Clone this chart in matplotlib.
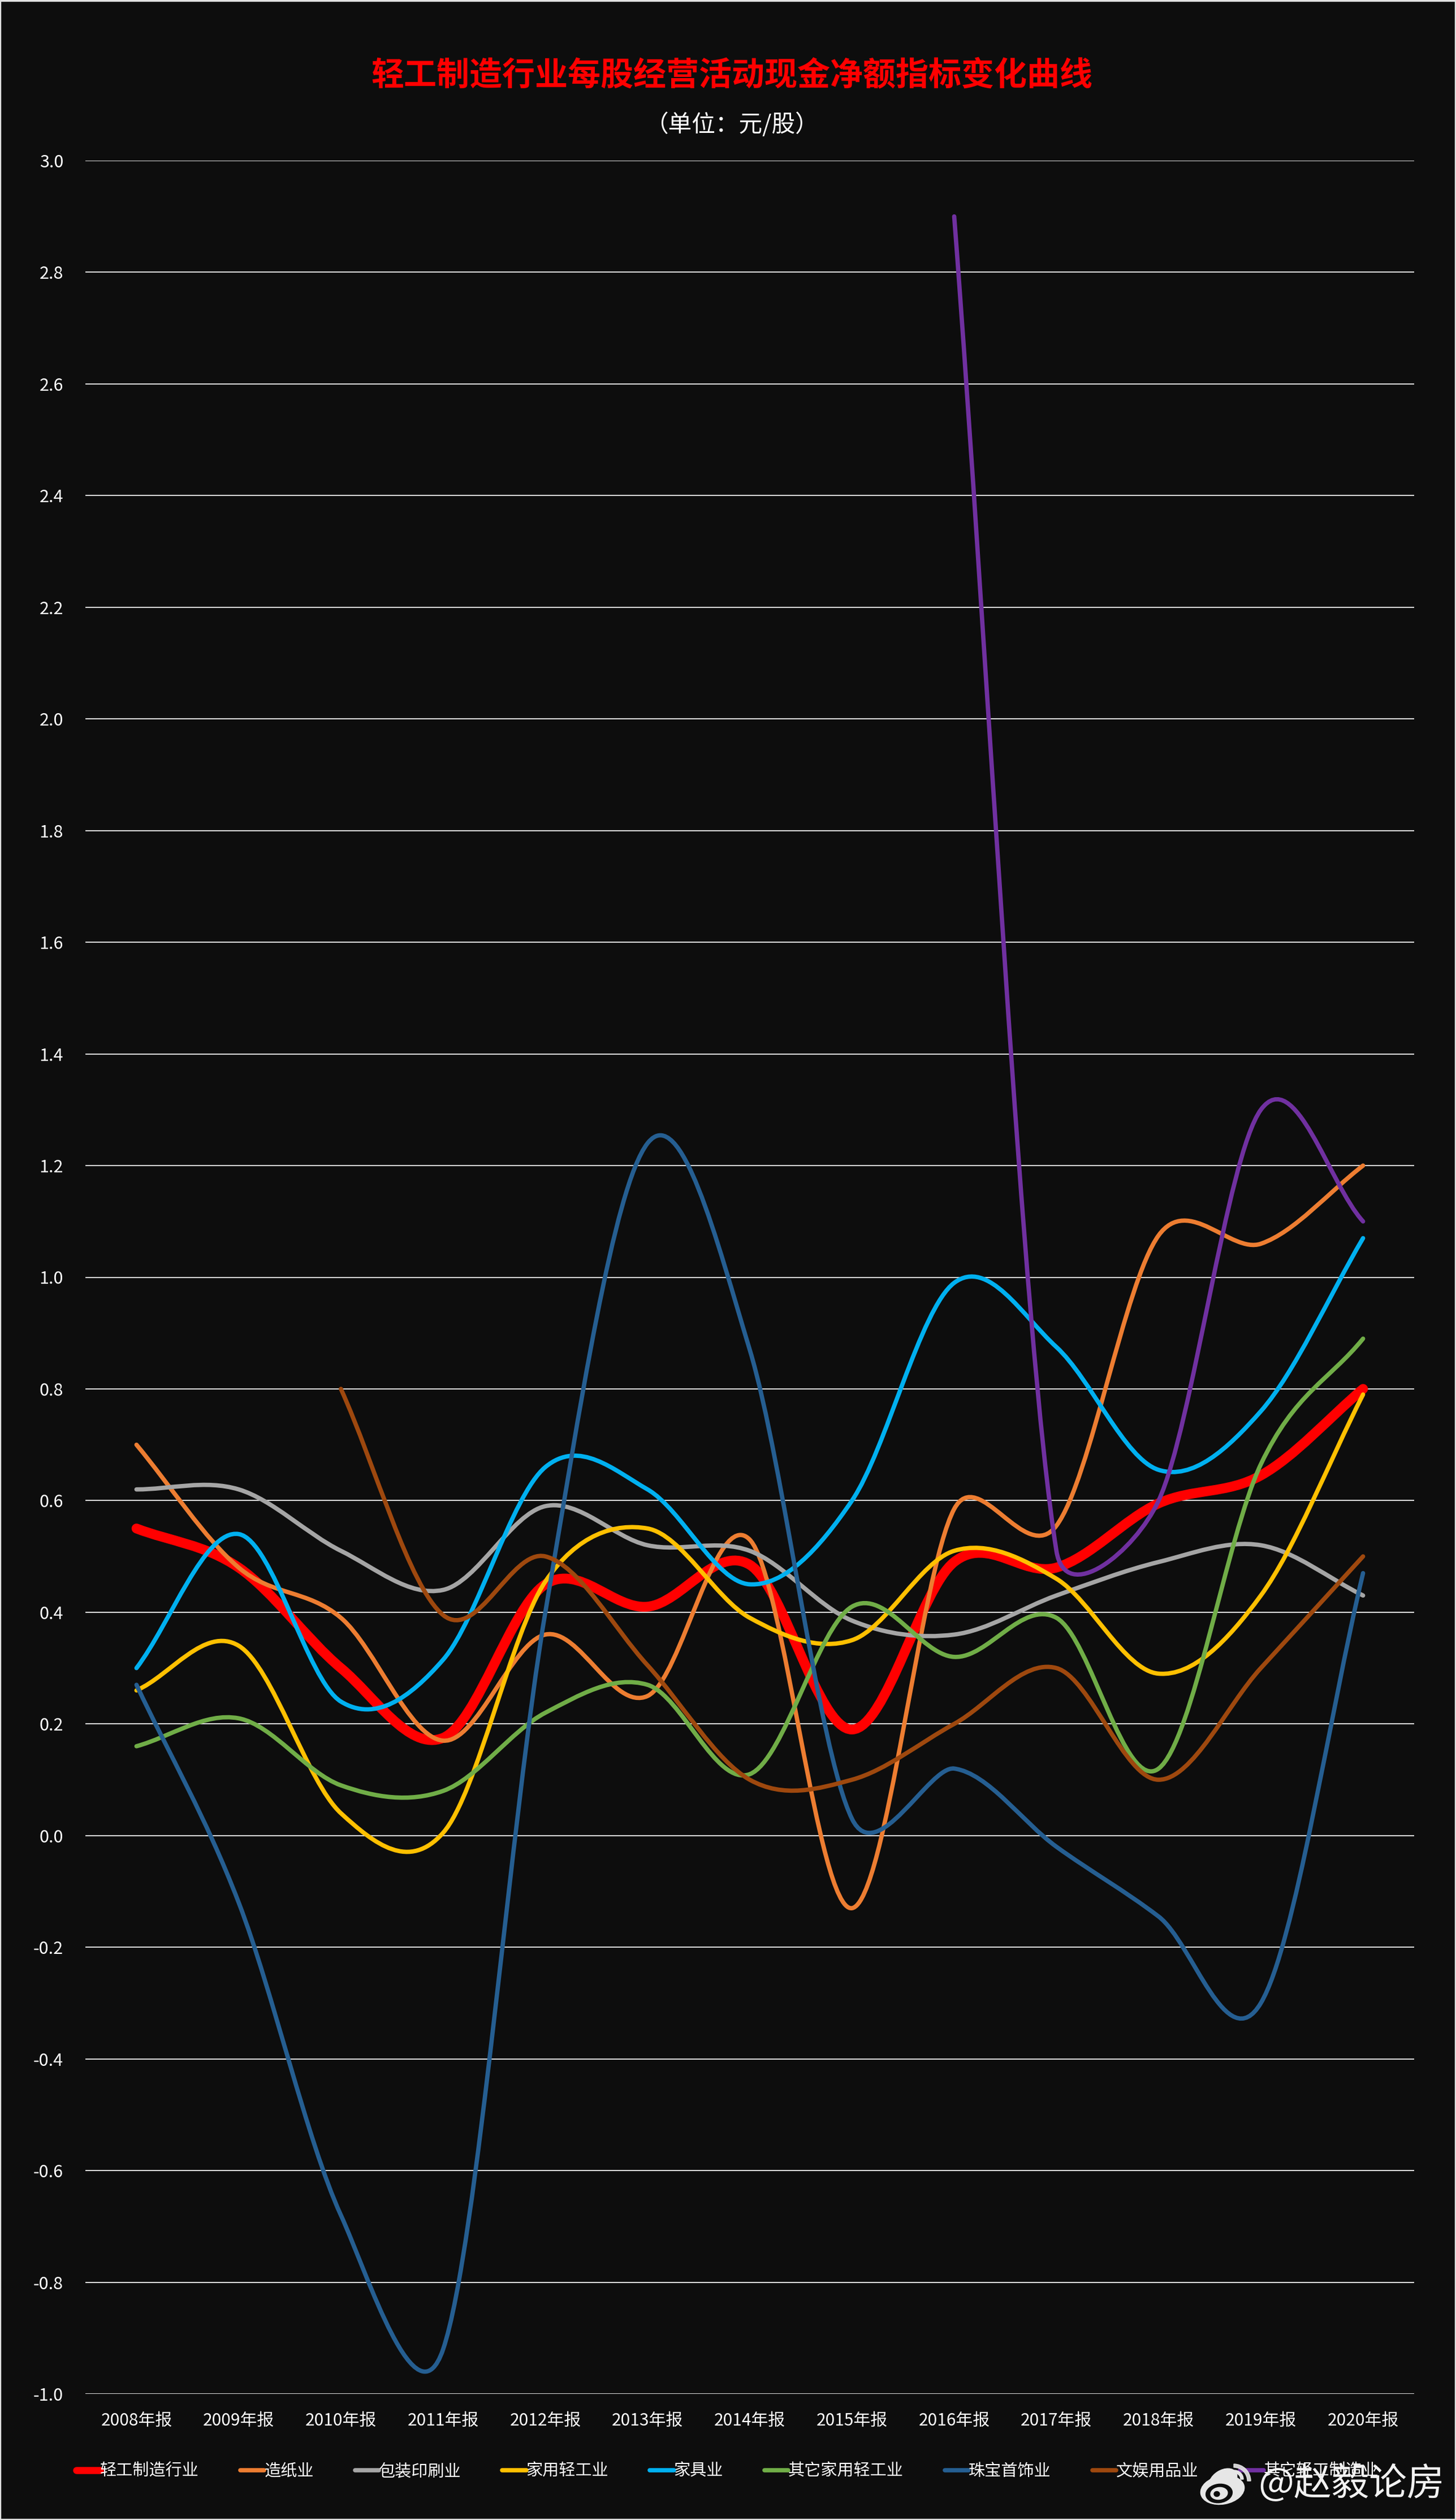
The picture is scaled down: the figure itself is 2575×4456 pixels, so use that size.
import numpy as np
import matplotlib
matplotlib.use("Agg")
import matplotlib.pyplot as plt
from matplotlib.lines import Line2D
from matplotlib.patches import Ellipse, PathPatch, Rectangle, Wedge
from matplotlib.path import Path

plt.rcParams["font.family"] = ["Noto Sans CJK SC", "DejaVu Sans"]
plt.rcParams["axes.unicode_minus"] = False

TITLE = "轻工制造行业每股经营活动现金净额指标变化曲线"
SUBTITLE = "（单位：元/股）"
WATERMARK = "@赵毅论房"

years = [f"{y}年报" for y in range(2008, 2021)]
yticks = [round(-1.0 + 0.2 * i, 1) for i in range(21)]

light_mfg = [0.55, 0.48, 0.30, 0.175, 0.45, 0.41, 0.485, 0.19, 0.49, 0.48, 0.595, 0.645, 0.80]
paper = [0.70, 0.48, 0.39, 0.17, 0.36, 0.25, 0.53, -0.13, 0.585, 0.555, 1.075, 1.06, 1.20]
packaging = [0.62, 0.62, 0.51, 0.44, 0.59, 0.52, 0.51, 0.385, 0.36, 0.43, 0.49, 0.52, 0.43]
home_light = [0.26, 0.34, 0.04, 0.005, 0.455, 0.55, 0.39, 0.35, 0.51, 0.46, 0.29, 0.43, 0.79]
furniture = [0.30, 0.54, 0.24, 0.315, 0.66, 0.62, 0.45, 0.60, 0.99, 0.875, 0.655, 0.76, 1.07]
other_home = [0.16, 0.21, 0.09, 0.08, 0.22, 0.27, 0.11, 0.41, 0.32, 0.39, 0.12, 0.665, 0.89]
jewelry = [0.27, -0.12, -0.68, -0.92, 0.40, 1.24, 0.87, 0.03, 0.12, -0.02, -0.145, -0.30, 0.47]
leisure = [None, None, 0.80, 0.395, 0.50, 0.305, 0.10, 0.10, 0.20, 0.30, 0.10, 0.30, 0.50]
other_mfg = [None, None, None, None, None, None, None, None, 2.90, 0.51, 0.60, 1.30, 1.10]

series_names = ["轻工制造行业", "造纸业", "包装印刷业", "家用轻工业", "家具业",
                "其它家用轻工业", "珠宝首饰业", "文娱用品业", "其它轻工制造业"]
series_values = [light_mfg, paper, packaging, home_light, furniture,
                 other_home, jewelry, leisure, other_mfg]
series_colors = ["#FF0000", "#ED7D31", "#A5A5A5", "#FFC000", "#00B0F0",
                 "#70AD47", "#255E91", "#9E480E", "#7030A0"]

BG = "#0D0D0D"
W, H = 2575, 4456


def smooth_path(ax, x, y):
    """Bezier path through the points, same control point rules as Excel smoothed lines"""
    pts = ax.transData.transform(np.column_stack([x, y]))
    verts = [pts[0]]
    codes = [Path.MOVETO]
    n = len(pts)
    for i in range(n - 1):
        p0 = pts[max(i - 1, 0)]
        p1 = pts[i]
        p2 = pts[i + 1]
        p3 = pts[min(i + 2, n - 1)]
        d02 = np.hypot(*(p2 - p0))
        d12 = np.hypot(*(p2 - p1))
        d13 = np.hypot(*(p3 - p1))
        if d02 / 6 < d12 / 2 and d13 / 6 < d12 / 2:
            f1 = 1 / 3 if i == 0 else 1 / 6
            f2 = 1 / 3 if i == n - 2 else 1 / 6
            b1 = p1 + (p2 - p0) * f1
            b2 = p2 + (p1 - p3) * f2
        elif d02 / 6 >= d12 / 2 and d13 / 6 >= d12 / 2:
            b1 = p1 + (p2 - p0) * d12 / 2 / d02
            b2 = p2 + (p1 - p3) * d12 / 2 / d13
        elif d02 / 6 >= d12 / 2:
            b1 = p1 + (p2 - p0) * d12 / 2 / d02
            b2 = p2 + (p1 - p3) * d12 / 2 / d13 * (d13 / d02)
        else:
            b1 = p1 + (p2 - p0) * d12 / 2 / d02 * (d02 / d13)
            b2 = p2 + (p1 - p3) * d12 / 2 / d13
        verts += [b1, b2, p2]
        codes += [Path.CURVE4] * 3
    return Path(ax.transData.inverted().transform(np.array(verts)), codes)


def main():
    fig = plt.figure(figsize=(W / 100, H / 100), dpi=100, facecolor=BG)
    ax = fig.add_axes([151 / W, 1 - 4233 / H, 2350 / W, (4233 - 284) / H], facecolor=BG)
    ax.set_xlim(-0.5, 12.5)
    ax.set_ylim(-1.0, 3.0)

    ax.set_yticks(yticks)
    ax.set_yticklabels([f"{v:.1f}" for v in yticks], color="white", fontsize=22)
    ax.set_xticks(range(len(years)))
    ax.set_xticklabels(years, color="white", fontsize=21.5)
    ax.tick_params(axis="both", length=0)
    ax.tick_params(axis="y", pad=28)
    ax.tick_params(axis="x", pad=23)
    ax.grid(axis="y", color="#D9D9D9", linewidth=1.5)
    ax.set_axisbelow(True)
    for spine in ax.spines.values():
        spine.set_visible(False)

    handles = []
    for i, (name, values, color) in enumerate(zip(series_names, series_values, series_colors)):
        lw = 12.5 if i == 0 else 5.5
        xs = [k for k, v in enumerate(values) if v is not None]
        ys = [v for v in values if v is not None]
        ax.add_patch(PathPatch(smooth_path(ax, xs, ys), fill=False, edgecolor=color, linewidth=lw,
                               capstyle="round", joinstyle="round", zorder=3 + i * 0.1))
        handles.append(Line2D([0], [0], color=color, linewidth=9 if i == 0 else 5.5,
                              solid_capstyle="round", label=name))

    fig.text(1294 / W, 1 - 134 / H, TITLE, color="#FF0000", fontsize=41.8, fontweight="bold",
             ha="center", va="center")
    fig.text(1294 / W, 1 - 220 / H, SUBTITLE, color="white", fontsize=30, ha="center", va="center")

    leg = fig.legend(handles=handles, loc="center left", bbox_to_anchor=(135 / W, 1 - 4370 / H), ncol=9,
                     frameon=False, fontsize=21, handlelength=1.45, handletextpad=0, columnspacing=2.5,
                     borderpad=0, borderaxespad=0, labelcolor="white")
    leg.set_zorder(5)

    # weibo logo and name on top of the legend
    fig.text(2225 / W, 1 - 4393 / H, WATERMARK, color="#F2F2F2", fontsize=48, ha="left", va="center", zorder=10)
    over = fig.add_axes([0, 0, 1, 1], facecolor="none", zorder=9)
    over.set_xlim(0, W)
    over.set_ylim(H, 0)
    over.axis("off")
    logo = "#E6E6E6"
    over.add_patch(Ellipse((2162, 4403), 78, 50, angle=-10, color=logo))
    over.add_patch(Ellipse((2163, 4386), 54, 36, angle=-32, color=logo))
    over.add_patch(Ellipse((2156, 4409), 47, 33, angle=-8, color=BG))
    over.add_patch(Ellipse((2156, 4409), 30, 21, angle=-8, color=logo))
    over.add_patch(Ellipse((2152, 4410), 10, 9, color=BG))
    over.add_patch(Wedge((2182, 4387), 30, -90, 0, width=6, color=logo, alpha=0.9))
    over.add_patch(Wedge((2183, 4384), 16, -90, 0, width=5, color=logo))

    # thin light edge of the screenshot
    over.add_patch(Rectangle((0, 0), W, 2, color="#E0E0E0"))
    over.add_patch(Rectangle((0, H - 2), W, 2, color="#E0E0E0"))
    over.add_patch(Rectangle((0, 0), 1, H, color="#E0E0E0"))
    over.add_patch(Rectangle((W - 2, 0), 2, H, color="#E0E0E0"))

    fig.savefig("out.png", dpi=100, facecolor=BG)
    plt.close(fig)


if __name__ == "__main__":
    main()
